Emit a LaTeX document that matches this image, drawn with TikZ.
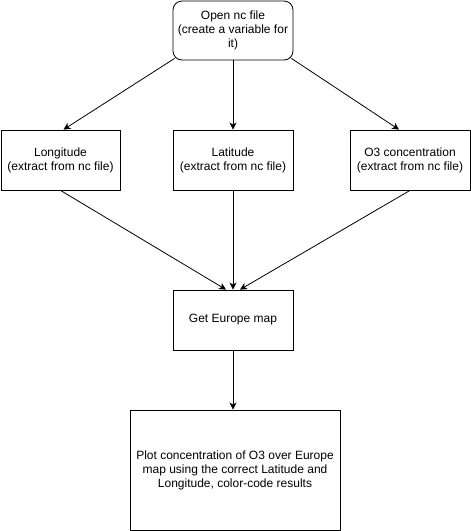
\documentclass[tikz,border=0pt]{standalone}
\usepackage{fontspec}
\setmainfont{Liberation Sans}
\usetikzlibrary{arrows.meta}
\begin{document}
\begin{tikzpicture}[x=1pt,y=-1pt,
  box/.style={draw, line width=0.8pt, align=center, inner sep=2pt, font=\fontsize{12}{14}\selectfont, anchor=center},
  conn/.style={draw, line width=0.8pt, -{Stealth[length=7pt,width=7pt,inset=2pt]}}]
\useasboundingbox (0,0) rectangle (471,531);
\node[box, rounded corners=9pt, minimum width=120pt, minimum height=59pt] (top) at (233,30.5) {Open nc file\\(create a variable for\\it)};
\node[box, minimum width=119pt, minimum height=60pt] (lon) at (60.5,160) {Longitude\\(extract from nc file)};
\node[box, minimum width=120pt, minimum height=60pt] (lat) at (233,160) {Latitude\\(extract from nc file)};
\node[box, minimum width=120pt, minimum height=60pt] (o3) at (410,160) {O3 concentration\\(extract from nc file)};
\node[box, minimum width=120pt, minimum height=60pt] (eu) at (233,320) {Get Europe map};
\node[box, minimum width=210pt, minimum height=120pt] (plot) at (235,470) {Plot concentration of O3 over Europe\\map using the correct Latitude and\\Longitude, color-code results};
\coordinate (tl) at ([xshift=2pt,yshift=2pt]top.south west);
\coordinate (tr) at ([xshift=-2pt,yshift=2pt]top.south east);
\draw[conn] (tl) -- ([xshift=3pt]lon.north);
\draw[conn] (top.south) -- (lat.north);
\draw[conn] (tr) -- ([xshift=-11pt]o3.north);
\draw[conn] (lon.south) -- ([xshift=-7pt]eu.north);
\draw[conn] (lat.south) -- (eu.north);
\draw[conn] (o3.south) -- ([xshift=7pt]eu.north);
\draw[conn] (eu.south) -- (eu.south |- plot.north);
\end{tikzpicture}
\end{document}
